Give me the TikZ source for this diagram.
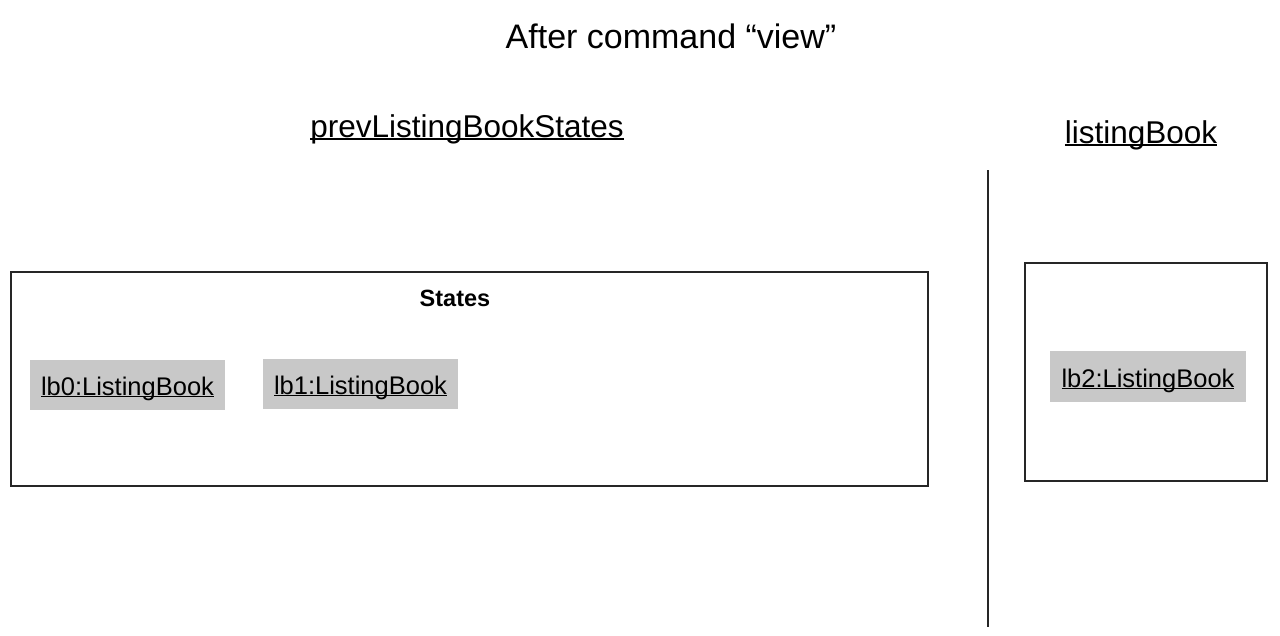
\documentclass[tikz,border=0pt]{standalone}
\usepackage{fontspec}
\setmainfont{Liberation Sans}
\newlength\ulw
\newcommand\ulin[1]{\settowidth\ulw{#1}\rlap{\rule[-0.09em]{\ulw}{0.055em}}#1}
\definecolor{objgray}{HTML}{C8C8C8}
\begin{document}
\begin{tikzpicture}[x=1pt,y=-1pt,
  frame/.style={draw=black!85,line width=2pt},
  objbox/.style={fill=objgray},
  lbl/.style={anchor=base,inner sep=0pt}]
\useasboundingbox (0,0) rectangle (1280,635);
\fill[white] (0,0) rectangle (1280,635);
% title
\node[lbl,font=\fontsize{34}{40}\selectfont] (title) at (671,48) {After command “view”};
\node[lbl,font=\fontsize{31.5}{38}\selectfont] (prev) at (467,137) {\ulin{prevListingBookStates}};
\node[lbl,font=\fontsize{31.5}{38}\selectfont] (cur) at (1141,143) {\ulin{listingBook}};
% divider
\coordinate (dtop) at (988,170);
\coordinate (dbot) at (988,627);
\draw[black!85,line width=2.5pt] (dtop) -- (dbot);
% States frame
\draw[frame] (11,272) rectangle (928,486);
\node[lbl,font=\bfseries\fontsize{23.5}{28}\selectfont] (states) at (455,306) {States};
% object boxes
\fill[objbox] (30,360) rectangle (225,410);
\node[lbl,font=\fontsize{25.5}{30}\selectfont] (lb0) at (127.5,395) {\ulin{lb0:ListingBook}};
\fill[objbox] (263,359) rectangle (458,409);
\node[lbl,font=\fontsize{25.5}{30}\selectfont] (lb1) at (360.5,394) {\ulin{lb1:ListingBook}};
% right frame
\draw[frame] (1025,263) rectangle (1267,481);
\fill[objbox] (1050,351) rectangle (1246,402);
\node[lbl,font=\fontsize{25.5}{30}\selectfont] (lb2) at (1148,387) {\ulin{lb2:ListingBook}};
\end{tikzpicture}
\end{document}
